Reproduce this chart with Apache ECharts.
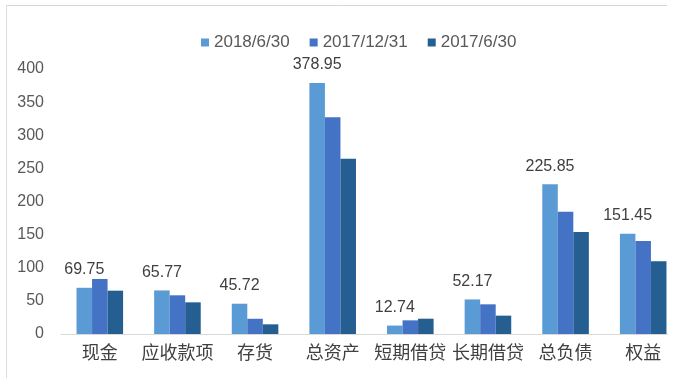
<!DOCTYPE html>
<html>
<head>
<meta charset="utf-8">
<script src="https://cdn.jsdelivr.net/npm/echarts@6/dist/echarts.min.js"></script>
<style>html,body{margin:0;padding:0;background:#fff;}#c{width:693px;height:390px;}</style>
</head>
<body>
<div id="c"></div>
<script>
var categories = ['现金', '应收款项', '存货', '总资产', '短期借贷', '长期借贷', '总负债', '权益'];
var seriesNames = ['2018/6/30', '2017/12/31', '2017/6/30'];
var values2018_06 = [69.75, 65.77, 45.72, 378.95, 12.74, 52.17, 225.85, 151.45];
var values2017_12 = [83, 58.4, 23, 327, 20.6, 44.8, 184.6, 140.4];
var values2017_06 = [65.4, 47.8, 14.6, 264.6, 23.1, 27.7, 154, 109.7];
var yTicks = {min: 0, max: 400, interval: 50};

var colors = ['#5B9BD5', '#4472C4', '#255E91'];
var font = 'Arial, "Liberation Sans", "Noto Sans CJK SC", sans-serif';

var chart = echarts.init(document.getElementById('c'), null, {renderer: 'canvas'});
function mk(name, data, idx, withLabel) {
  return {
    name: name, type: 'bar', data: data,
    barGap: 0, barCategoryGap: '40%',
    itemStyle: {color: colors[idx]},
    label: withLabel ? {show: true, position: 'top', distance: 10, fontSize: 16, color: '#404040', fontFamily: font} : {show: false},
    z: 2
  };
}
chart.setOption({
  animation: false,
  backgroundColor: '#fff',
  textStyle: {fontFamily: font},
  legend: {
    left: 196, top: 29,
    itemWidth: 8, itemHeight: 8, itemGap: 20,
    icon: 'rect',
    textStyle: {fontSize: 17, color: '#595959', fontFamily: font},
    data: seriesNames
  },
  grid: {left: 61, right: 11, top: 69, bottom: 56, containLabel: false},
  xAxis: {
    type: 'category', data: categories,
    axisLine: {show: true, lineStyle: {color: '#D9D9D9', width: 1}},
    axisTick: {show: false},
    axisLabel: {fontSize: 18, color: '#404040', margin: 11, interval: 0, fontFamily: font}
  },
  yAxis: {
    type: 'value', min: yTicks.min, max: yTicks.max, interval: yTicks.interval,
    axisLine: {show: false}, axisTick: {show: false},
    splitLine: {show: false},
    axisLabel: {fontSize: 16, color: '#595959', margin: 17, fontFamily: font}
  },
  series: [
    mk(seriesNames[0], values2018_06, 0, true),
    mk(seriesNames[1], values2017_12, 1, false),
    mk(seriesNames[2], values2017_06, 2, false)
  ],
  graphic: [
    {type: 'rect', shape: {x: 668, y: 0, width: 30, height: 390}, style: {fill: '#fff'}, z: 100},
    {type: 'line', shape: {x1: 6, y1: 5.5, x2: 667, y2: 5.5}, style: {stroke: '#D6D6D6', lineWidth: 1}, z: 101},
    {type: 'line', shape: {x1: 6.5, y1: 5, x2: 6.5, y2: 378}, style: {stroke: '#DDDDDD', lineWidth: 1}, z: 101}
  ]
});
</script>
</body>
</html>
